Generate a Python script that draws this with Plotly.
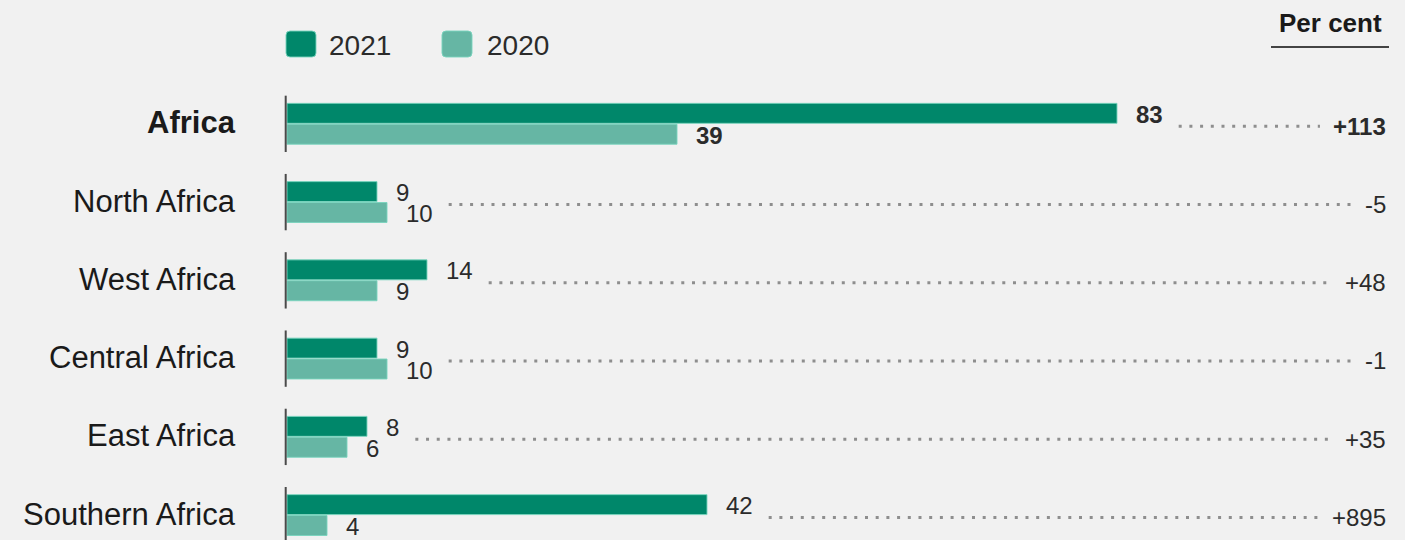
import plotly.graph_objects as go

# ---------------- data ----------------
regions = ["Africa", "North Africa", "West Africa", "Central Africa", "East Africa", "Southern Africa"]
values_2021 = [83, 9, 14, 9, 8, 42]
values_2020 = [39, 10, 9, 10, 6, 4]
change_labels = ["+113", "-5", "+48", "-1", "+35", "+895"]
bold_rows = [True, False, False, False, False, False]
series_names = ["2021", "2020"]
unit_label = "Per cent"

# ---------------- style ----------------
W, H = 1405, 540
BG = "#f1f1f1"
DARK = "#00876a"
LIGHT = "#66b6a4"
EDGE = "rgba(120,212,190,0.9)"
TXT = "#2b2b2b"
FONT = "Liberation Sans, Arial, Helvetica, sans-serif"

PX_PER_X = 10.0
X0_PX = 287.0
x_range = [-X0_PX / PX_PER_X, (W - X0_PX) / PX_PER_X]
PX_PER_ROW = 78.26
ROW0_PX = 123.85
y_top = -ROW0_PX / PX_PER_ROW
y_bot = y_top + H / PX_PER_ROW

ypos = list(range(len(regions)))
BAR_W = 0.255

CW = {"+": 0.584, "-": 0.333}
def text_w(s, size):
    return sum(CW.get(c, 0.556) for c in s) * size

VAL_SIZE = 24
LABEL_GAP = 17

fig = go.Figure()
fig.add_trace(go.Bar(
    orientation="h", y=ypos, x=values_2021, name=series_names[0],
    offset=-0.262, width=BAR_W,
    marker=dict(color=DARK, line=dict(color=EDGE, width=1)),
    hoverinfo="skip", showlegend=False,
))
fig.add_trace(go.Bar(
    orientation="h", y=ypos, x=values_2020, name=series_names[1],
    offset=0.005, width=BAR_W,
    marker=dict(color=LIGHT, line=dict(color=EDGE, width=1)),
    hoverinfo="skip", showlegend=False,
))

annotations = []
shapes = []

for i, reg in enumerate(regions):
    b = bold_rows[i]
    # category label
    annotations.append(dict(
        x=0, y=i, xref="x", yref="y", xanchor="right", yanchor="middle",
        xshift=-49, yshift=1, showarrow=False,
        text=f"<b>{reg}</b>" if b else reg,
        font=dict(family=FONT, size=31, color="#1a1a1a"),
    ))
    # axis stub
    shapes.append(dict(
        type="line", xref="x", yref="y", x0=-0.13, x1=-0.13,
        y0=i - 0.36, y1=i + 0.36, line=dict(color="#4a4a4a", width=2), layer="above",
    ))
    # value labels
    for v, yc in ((values_2021[i], i - 0.262 + BAR_W / 2), (values_2020[i], i + 0.005 + BAR_W / 2)):
        annotations.append(dict(
            x=v, y=yc, xref="x", yref="y", xanchor="left", yanchor="middle",
            xshift=LABEL_GAP, yshift=-1, showarrow=False,
            text=f"<b>{v}</b>" if b else str(v),
            font=dict(family=FONT, size=VAL_SIZE, color=TXT),
        ))
    # change labels
    annotations.append(dict(
        x=1388 / W, y=i + 0.03, xref="paper", yref="y", xanchor="right", yanchor="middle",
        showarrow=False,
        text=f"<b>{change_labels[i]}</b>" if b else change_labels[i],
        font=dict(family=FONT, size=VAL_SIZE, color=TXT),
    ))
    # dotted leader
    start = max(v + (LABEL_GAP + text_w(str(v), VAL_SIZE)) / PX_PER_X
                for v in (values_2021[i], values_2020[i])) + 18 / PX_PER_X
    end = (1388 - text_w(change_labels[i], VAL_SIZE) - 14 - X0_PX) / PX_PER_X
    shapes.append(dict(
        type="line", xref="x", yref="y", x0=start, x1=end, y0=i + 0.03, y1=i + 0.03,
        line=dict(color="#8e8e8e", width=3, dash="3px,7.7px"),
    ))

# ---------------- legend (manual) ----------------
def rounded_rect(x0, y0, x1, y1, r):
    rx, ry = r / W, r / H
    X0, X1 = x0 / W, x1 / W
    Y0, Y1 = 1 - y1 / H, 1 - y0 / H
    return (f"M {X0+rx},{Y0} L {X1-rx},{Y0} Q {X1},{Y0} {X1},{Y0+ry} "
            f"L {X1},{Y1-ry} Q {X1},{Y1} {X1-rx},{Y1} L {X0+rx},{Y1} "
            f"Q {X0},{Y1} {X0},{Y1-ry} L {X0},{Y0+ry} Q {X0},{Y0} {X0+rx},{Y0} Z")

for (sx0, tx, col, name) in ((286, 327, DARK, series_names[0]), (442, 485, LIGHT, series_names[1])):
    shapes.append(dict(
        type="path", xref="paper", yref="paper", path=rounded_rect(sx0, 31, sx0 + 30, 57, 4),
        fillcolor=col, line=dict(color=EDGE, width=1),
    ))
    annotations.append(dict(
        x=tx / W, y=1 - 45 / H, xref="paper", yref="paper", xanchor="left", yanchor="middle",
        showarrow=False, text=name, font=dict(family=FONT, size=28, color=TXT),
    ))

# unit label
annotations.append(dict(
    x=1384 / W, y=1 - 23 / H, xref="paper", yref="paper", xanchor="right", yanchor="middle",
    showarrow=False, text=f"<b>{unit_label}</b>", font=dict(family=FONT, size=26, color="#1a1a1a"),
))
shapes.append(dict(
    type="line", xref="paper", yref="paper", x0=1271 / W, x1=1389 / W,
    y0=1 - 47 / H, y1=1 - 47 / H, line=dict(color="#444444", width=2),
))

fig.update_layout(
    width=W, height=H, autosize=False,
    margin=dict(l=0, r=0, t=0, b=0, pad=0),
    paper_bgcolor=BG, plot_bgcolor=BG,
    barmode="overlay", showlegend=False, hovermode=False,
    xaxis=dict(range=x_range, visible=False, fixedrange=True),
    yaxis=dict(range=[y_bot, y_top], visible=False, fixedrange=True),
    annotations=annotations, shapes=shapes,
)

fig.write_html("out.html")
